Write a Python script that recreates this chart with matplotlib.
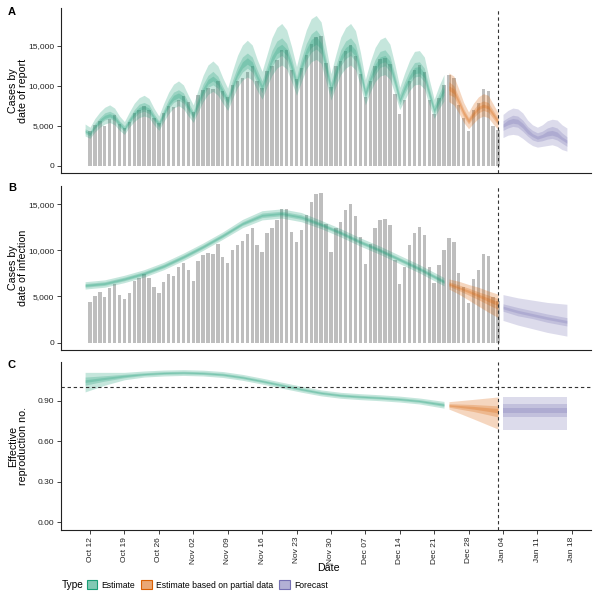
import matplotlib
matplotlib.use('Agg')
import matplotlib.pyplot as plt
import matplotlib.patches as mpatches
from matplotlib.ticker import FuncFormatter
import numpy as np
import pandas as pd

plt.rcParams['font.family'] = ['Liberation Sans', 'DejaVu Sans']

GREEN, ORANGE, PURPLE = '#1B9E77', '#D95F02', '#7570B3'
ORIGIN = pd.Timestamp('2020-10-12')

# ─── reported cases, one bar per day (12 Oct 2020 – 3 Jan 2021) ──────────────
CASES = [
    4350, 5060, 5530, 4990, 5890, 6330, 5170,
    4700, 5420, 6630, 6950, 7430, 6950, 6000,
    5350, 6620, 7420, 7270, 8240, 8680, 7900,
    6690, 8820, 9480, 9760, 9640, 10650, 9330,
    8610, 10090, 10560, 10970, 11720, 12470, 10620,
    9770, 11890, 12440, 13280, 14490, 14490, 12030,
    10880, 12200, 13800, 15270, 16060, 16170, 12890,
    9860, 12450, 13070, 14400, 15050, 13700, 11480,
    8560, 10650, 12450, 13290, 13430, 12700, 9000,
    6400, 8240, 10560, 11930, 12550, 11680, 8240,
    6470, 8440, 10050, 11390, 10950, 7590, 6000,
    4340, 6900, 7890, 9600, 9360, 4950, 4500,
]
DATA_END_DAY = 83

# ─── panel A: cases by date of report (thousands), days from 12 Oct ─────────
REP_EST = dict(
    days=list(range(-1, 73)),
    lo90=[3.7, 3.4, 4.2, 4.8, 5.2, 5.4, 5.1, 4.4,
          3.9, 4.8, 5.5, 6.0, 6.2, 6.0, 5.1,
          4.4, 5.5, 6.5, 7.2, 7.5, 7.1, 6.2,
          5.4, 6.7, 8.0, 8.9, 9.3, 8.8, 7.8,
          6.9, 8.4, 9.8, 10.7, 11.1, 10.7, 9.4,
          8.3, 9.9, 11.3, 12.2, 12.6, 12.1, 10.5,
          8.8, 10.5, 12.1, 13.0, 13.3, 12.8, 10.5,
          8.2, 9.9, 11.4, 12.2, 12.6, 12.0, 10.0,
          7.6, 9.2, 10.5, 11.2, 11.4, 10.8, 9.0,
          7.0, 8.2, 9.4, 10.1, 10.2, 9.6, 7.6,
          5.9, 7.1, 8.1],
    lo50=[4.0, 3.7, 4.6, 5.2, 5.7, 5.9, 5.6, 4.8,
          4.3, 5.2, 6.0, 6.6, 6.8, 6.5, 5.6,
          4.8, 6.0, 7.2, 7.9, 8.2, 7.8, 6.8,
          5.9, 7.3, 8.7, 9.8, 10.1, 9.7, 8.6,
          7.5, 9.2, 10.7, 11.7, 12.2, 11.7, 10.3,
          9.1, 10.8, 12.4, 13.4, 13.8, 13.2, 11.5,
          9.6, 11.5, 13.2, 14.2, 14.6, 14.0, 11.5,
          8.9, 10.8, 12.5, 13.4, 13.8, 13.1, 11.0,
          8.4, 10.0, 11.4, 12.3, 12.5, 11.8, 9.9,
          7.6, 9.0, 10.2, 11.1, 11.2, 10.5, 8.4,
          6.4, 7.7, 8.8],
    lo20=[4.2, 3.9, 4.8, 5.4, 5.9, 6.1, 5.8, 5.0,
          4.5, 5.4, 6.3, 6.9, 7.1, 6.8, 5.8,
          5.0, 6.3, 7.5, 8.2, 8.5, 8.1, 7.1,
          6.1, 7.7, 9.1, 10.2, 10.6, 10.1, 8.9,
          7.9, 9.6, 11.2, 12.2, 12.7, 12.2, 10.8,
          9.5, 11.3, 12.9, 14.0, 14.4, 13.8, 12.0,
          10.0, 12.0, 13.8, 14.8, 15.2, 14.6, 12.0,
          9.3, 11.3, 13.0, 14.0, 14.4, 13.7, 11.4,
          8.7, 10.5, 11.9, 12.8, 13.0, 12.3, 10.3,
          8.0, 9.4, 10.7, 11.5, 11.6, 11.0, 8.7,
          6.7, 8.1, 9.2],
    hi20=[4.4, 4.1, 5.0, 5.8, 6.3, 6.5, 6.2, 5.4,
          4.7, 5.8, 6.7, 7.3, 7.5, 7.2, 6.2,
          5.4, 6.7, 7.9, 8.8, 9.1, 8.7, 7.5,
          6.5, 8.1, 9.7, 10.8, 11.2, 10.7, 9.5,
          8.3, 10.2, 11.8, 13.0, 13.5, 13.0, 11.4,
          10.1, 11.9, 13.7, 14.8, 15.2, 14.6, 12.8,
          10.6, 12.8, 14.6, 15.8, 16.2, 15.4, 12.8,
          9.9, 11.9, 13.8, 14.8, 15.2, 14.5, 12.2,
          9.3, 11.1, 12.7, 13.6, 13.8, 13.1, 10.9,
          8.4, 10.0, 11.3, 12.3, 12.4, 11.6, 9.3,
          7.1, 8.5, 9.8],
    hi50=[4.6, 4.3, 5.3, 6.0, 6.6, 6.8, 6.5, 5.6,
          5.0, 6.0, 7.0, 7.7, 7.9, 7.6, 6.5,
          5.6, 7.0, 8.3, 9.2, 9.5, 9.1, 7.9,
          6.8, 8.5, 10.2, 11.3, 11.8, 11.2, 9.9,
          8.7, 10.7, 12.4, 13.6, 14.1, 13.6, 12.0,
          10.6, 12.5, 14.4, 15.6, 16.0, 15.3, 13.4,
          11.1, 13.4, 15.3, 16.5, 17.0, 16.2, 13.4,
          10.4, 12.5, 14.5, 15.6, 16.0, 15.2, 12.7,
          9.7, 11.7, 13.3, 14.3, 14.5, 13.7, 11.4,
          8.9, 10.5, 11.9, 12.9, 13.0, 12.2, 9.7,
          7.5, 9.0, 10.3],
    hi90=[5.2, 4.8, 5.9, 6.7, 7.3, 7.6, 7.2, 6.2,
          5.5, 6.7, 7.8, 8.5, 8.8, 8.4, 7.2,
          6.2, 7.8, 9.2, 10.2, 10.6, 10.1, 8.8,
          7.6, 9.5, 11.3, 12.6, 13.1, 12.5, 11.0,
          9.7, 11.9, 13.8, 15.1, 15.7, 15.1, 13.3,
          11.8, 13.9, 16.0, 17.3, 17.8, 17.0, 14.9,
          12.4, 14.9, 17.0, 18.4, 18.8, 18.0, 14.9,
          11.5, 13.9, 16.1, 17.3, 17.8, 16.9, 14.2,
          10.8, 13.0, 14.8, 15.8, 16.1, 15.2, 12.7,
          9.8, 11.6, 13.2, 14.3, 14.4, 13.6, 10.8,
          8.3, 10.0, 11.4],
)
REP_PARTIAL = dict(
    days=list(range(73, 84)),
    lo90=[8.0, 7.6, 6.6, 5.4, 4.6, 5.3, 5.9, 6.2, 6.0, 5.2, 4.5],
    lo50=[8.9, 8.6, 7.4, 6.1, 5.2, 6.0, 6.6, 6.9, 6.7, 5.9, 5.1],
    lo20=[9.4, 9.0, 7.8, 6.4, 5.4, 6.3, 7.0, 7.3, 7.1, 6.2, 5.3],
    hi20=[10.0, 9.6, 8.2, 6.8, 5.8, 6.7, 7.4, 7.7, 7.5, 6.6, 5.7],
    hi50=[10.5, 10.0, 8.6, 7.1, 6.0, 7.0, 7.8, 8.1, 7.9, 6.9, 5.9],
    hi90=[11.6, 11.2, 9.6, 7.9, 6.7, 7.8, 8.6, 9.0, 8.8, 7.7, 6.6],
)
REP_FORECAST = dict(
    days=list(range(84, 98)),
    lo90=[3.5, 3.8, 3.9, 3.8, 3.4, 2.9, 2.5, 2.3, 2.4, 2.5, 2.6, 2.4, 2.0, 1.8],
    lo50=[4.4, 4.7, 4.9, 4.8, 4.3, 3.7, 3.2, 3.0, 3.1, 3.3, 3.4, 3.2, 2.8, 2.4],
    lo20=[4.8, 5.1, 5.3, 5.2, 4.7, 4.0, 3.6, 3.3, 3.5, 3.7, 3.8, 3.6, 3.2, 2.8],
    hi20=[5.2, 5.7, 5.9, 5.8, 5.3, 4.6, 4.0, 3.7, 3.9, 4.3, 4.4, 4.2, 3.6, 3.2],
    hi50=[5.6, 6.0, 6.3, 6.2, 5.7, 4.9, 4.4, 4.1, 4.3, 4.7, 4.9, 4.7, 4.1, 3.6],
    hi90=[6.4, 6.9, 7.2, 7.1, 6.6, 5.7, 5.1, 4.8, 5.1, 5.6, 5.8, 5.7, 5.1, 4.7],
)

# ─── panel B: cases by date of infection (thousands) ────────────────────────
INF_EST = dict(
    days=[-1, 3, 7, 11, 15, 19, 23, 27, 31, 35, 39, 43, 47, 51, 55, 59, 63, 67, 72],
    lo90=[5.8, 6.0, 6.5, 7.1, 7.9, 8.9, 10.0, 11.2, 12.45, 13.3, 13.5, 13.1,
          12.35, 11.45, 10.45, 9.55, 8.55, 7.55, 6.15],
    lo50=[6.0, 6.2, 6.7, 7.3, 8.1, 9.1, 10.2, 11.4, 12.7, 13.55, 13.75, 13.35,
          12.6, 11.7, 10.7, 9.8, 8.8, 7.8, 6.4],
    lo20=[6.1, 6.3, 6.8, 7.4, 8.2, 9.2, 10.3, 11.5, 12.8, 13.7, 13.9, 13.5,
          12.7, 11.8, 10.8, 9.9, 8.9, 7.9, 6.5],
    hi20=[6.3, 6.5, 7.0, 7.6, 8.4, 9.4, 10.5, 11.7, 13.0, 13.9, 14.1, 13.7,
          12.9, 12.0, 11.0, 10.1, 9.1, 8.1, 6.7],
    hi50=[6.4, 6.6, 7.1, 7.7, 8.5, 9.5, 10.6, 11.8, 13.1, 14.05, 14.25, 13.85,
          13.0, 12.1, 11.1, 10.2, 9.2, 8.2, 6.8],
    hi90=[6.6, 6.8, 7.3, 7.9, 8.7, 9.7, 10.8, 12.0, 13.35, 14.3, 14.5, 14.1,
          13.25, 12.35, 11.35, 10.45, 9.45, 8.45, 7.05],
)
INF_PARTIAL = dict(
    days=[73, 75, 77, 79, 81, 83],
    lo90=[5.8, 5.25, 4.6, 3.95, 3.3, 2.7],
    lo50=[6.1, 5.65, 5.15, 4.65, 4.1, 3.6],
    lo20=[6.25, 5.85, 5.4, 4.95, 4.45, 4.0],
    hi20=[6.45, 6.05, 5.7, 5.25, 4.85, 4.4],
    hi50=[6.6, 6.25, 5.9, 5.5, 5.15, 4.75],
    hi90=[6.9, 6.65, 6.3, 6.0, 5.6, 5.25],
)
INF_FORECAST = dict(
    days=[84, 87, 90, 93, 97],
    lo90=[2.4, 1.9, 1.5, 1.1, 0.7],
    lo50=[3.4, 2.9, 2.6, 2.2, 1.8],
    lo20=[3.65, 3.2, 2.85, 2.5, 2.1],
    hi20=[3.95, 3.5, 3.15, 2.8, 2.4],
    hi50=[4.2, 3.8, 3.45, 3.1, 2.7],
    hi90=[5.2, 4.85, 4.6, 4.35, 4.15],
)

# ─── panel C: effective reproduction number ─────────────────────────────────
R_EST = dict(
    days=[-1, 3, 7, 11, 15, 19, 23, 27, 31, 35, 39, 43, 47, 51, 55, 59, 63, 67, 72],
    lo90=[0.965, 1.015, 1.055, 1.075, 1.083, 1.087, 1.083, 1.072, 1.051, 1.023,
          0.993, 0.963, 0.936, 0.918, 0.908, 0.900, 0.890, 0.876, 0.845],
    lo50=[1.015, 1.045, 1.070, 1.087, 1.095, 1.098, 1.094, 1.084, 1.063, 1.035,
          1.005, 0.975, 0.948, 0.930, 0.920, 0.912, 0.902, 0.888, 0.858],
    lo20=[1.035, 1.057, 1.077, 1.093, 1.101, 1.104, 1.100, 1.090, 1.069, 1.041,
          1.011, 0.981, 0.954, 0.936, 0.926, 0.918, 0.908, 0.894, 0.865],
    hi20=[1.055, 1.073, 1.089, 1.101, 1.109, 1.112, 1.108, 1.098, 1.077, 1.049,
          1.019, 0.989, 0.962, 0.944, 0.934, 0.926, 0.916, 0.902, 0.875],
    hi50=[1.075, 1.085, 1.096, 1.107, 1.115, 1.118, 1.114, 1.104, 1.083, 1.055,
          1.025, 0.995, 0.968, 0.950, 0.940, 0.932, 0.922, 0.908, 0.882],
    hi90=[1.110, 1.110, 1.110, 1.120, 1.127, 1.130, 1.126, 1.116, 1.095, 1.067,
          1.037, 1.007, 0.980, 0.962, 0.952, 0.944, 0.934, 0.920, 0.895],
)
R_PARTIAL = dict(
    days=[73, 78, 83],
    lo90=[0.838, 0.765, 0.690],
    lo50=[0.852, 0.820, 0.780],
    lo20=[0.860, 0.838, 0.810],
    hi20=[0.870, 0.858, 0.842],
    hi50=[0.878, 0.872, 0.862],
    hi90=[0.893, 0.910, 0.928],
)
R_FORECAST = dict(
    days=[84, 97],
    lo90=[0.683, 0.683],
    lo50=[0.783, 0.783],
    lo20=[0.810, 0.810],
    hi20=[0.845, 0.845],
    hi50=[0.875, 0.875],
    hi90=[0.930, 0.930],
)

TYPE_LABELS = ['Estimate', 'Estimate based on partial data', 'Forecast']
TYPE_COLORS = [GREEN, ORANGE, PURPLE]


def to_dates(days):
    return ORIGIN + pd.to_timedelta(days, unit='D')


def draw_bands(ax, q, color, scale=1.0):
    x = to_dates(q['days'])
    for lo, hi in (('lo90', 'hi90'), ('lo50', 'hi50'), ('lo20', 'hi20')):
        ax.fill_between(x, np.array(q[lo]) * scale, np.array(q[hi]) * scale,
                        color=color, alpha=0.25, linewidth=0, zorder=2)


def style(ax, show_x):
    for s in ('top', 'right'):
        ax.spines[s].set_visible(False)
    for s in ('left', 'bottom'):
        ax.spines[s].set_linewidth(0.8)
        ax.spines[s].set_color('#222222')
    ax.tick_params(axis='y', length=3, width=0.6, labelsize=6,
                   colors='#222222', pad=2)
    if show_x:
        ax.tick_params(axis='x', length=3, width=0.6, labelsize=6,
                       colors='#222222', pad=2)
    else:
        ax.tick_params(axis='x', bottom=False, labelbottom=False)


fig = plt.figure(figsize=(6, 6), dpi=100)
ax_a = fig.add_axes([61 / 600, 1 - 173 / 600, 530 / 600, 165 / 600])
ax_b = fig.add_axes([61 / 600, 1 - 350 / 600, 530 / 600, 164 / 600])
ax_c = fig.add_axes([61 / 600, 1 - 530 / 600, 530 / 600, 168 / 600])

bar_dates = to_dates(list(range(len(CASES))))
data_end = to_dates([DATA_END_DAY])[0]
comma = FuncFormatter(lambda v, p: f'{v:,.0f}')

# panel A
ax_a.bar(bar_dates, CASES, width=0.7, color='#BEBEBE', linewidth=0, zorder=1)
for q, c in zip((REP_EST, REP_PARTIAL, REP_FORECAST), TYPE_COLORS):
    draw_bands(ax_a, q, c, scale=1000)
top_a = max(max(CASES), max(max(q['hi90']) for q in (REP_EST, REP_PARTIAL, REP_FORECAST)) * 1000)
ax_a.set_ylim(-0.05 * top_a, 1.05 * top_a)
ax_a.set_yticks([0, 5000, 10000, 15000])
ax_a.yaxis.set_major_formatter(comma)

# panel B
ax_b.bar(bar_dates, CASES, width=0.7, color='#BEBEBE', linewidth=0, zorder=1)
for q, c in zip((INF_EST, INF_PARTIAL, INF_FORECAST), TYPE_COLORS):
    draw_bands(ax_b, q, c, scale=1000)
top_b = max(max(CASES), max(max(q['hi90']) for q in (INF_EST, INF_PARTIAL, INF_FORECAST)) * 1000)
ax_b.set_ylim(-0.05 * top_b, 1.05 * top_b)
ax_b.set_yticks([0, 5000, 10000, 15000])
ax_b.yaxis.set_major_formatter(comma)

# panel C
for q, c in zip((R_EST, R_PARTIAL, R_FORECAST), TYPE_COLORS):
    draw_bands(ax_c, q, c)
top_c = max(max(q['hi90']) for q in (R_EST, R_PARTIAL, R_FORECAST))
ax_c.set_ylim(-0.05 * top_c, 1.05 * top_c)
ax_c.set_yticks([0, 0.3, 0.6, 0.9])
ax_c.yaxis.set_major_formatter(FuncFormatter(lambda v, p: f'{v:.2f}'))
ax_c.axhline(1.0, color='#333333', lw=0.8, ls=(0, (3, 2.5)), zorder=3)

x_lo, x_hi = to_dates([-1])[0], to_dates([97])[0]
pad = (x_hi - x_lo) * 0.05
week_ticks = pd.date_range('2020-10-12', '2021-01-18', freq='7D')
for ax, show_x in ((ax_a, False), (ax_b, False), (ax_c, True)):
    ax.axvline(data_end, color='#333333', lw=0.8, ls=(0, (3, 2.5)), zorder=3)
    ax.set_xlim(x_lo - pad, x_hi + pad)
    style(ax, show_x)

ax_c.set_xticks(week_ticks)
ax_c.set_xticklabels([d.strftime('%b %d') for d in week_ticks], rotation=90)

# labels
for y, letter in ((12, 'A'), (188, 'B'), (365, 'C')):
    fig.text(12 / 600, 1 - y / 600, letter, fontsize=8, fontweight='bold',
             ha='center', va='center')
for ax, lab in ((ax_a, 'Cases by\ndate of report'),
                (ax_b, 'Cases by\ndate of infection'),
                (ax_c, 'Effective\nreproduction no.')):
    pos = ax.get_position()
    fig.text(18 / 600, pos.y0 + pos.height / 2, lab, rotation=90, fontsize=7.7,
             ha='center', va='center', linespacing=1.0)
fig.text(328 / 600, 1 - 568 / 600, 'Date', fontsize=7.7, ha='center', va='center')

# legend
fig.text(62 / 600, 1 - 585 / 600, 'Type', fontsize=7.3, ha='left', va='center')
handles = [mpatches.Patch(facecolor=matplotlib.colors.to_rgba(c, 0.55), edgecolor=c,
                          linewidth=0.8, label=l)
           for c, l in zip(TYPE_COLORS, TYPE_LABELS)]
fig.legend(handles=handles, loc='center left', bbox_to_anchor=(87 / 600, 1 - 585 / 600),
           ncol=3, frameon=False, fontsize=6.2, handlelength=1.2, handleheight=1.2,
           handletextpad=0.5, columnspacing=0.7, borderaxespad=0, borderpad=0)

fig.savefig('out.png', dpi=100)
